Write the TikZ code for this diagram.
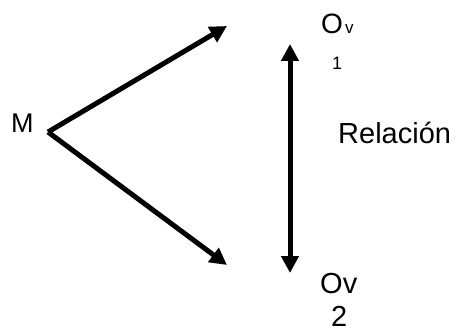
\documentclass[tikz,border=0pt]{standalone}
\usepackage{fontspec}
\setmainfont{Liberation Sans}
\usetikzlibrary{arrows.meta}
\begin{document}
\begin{tikzpicture}[x=1pt,y=-1pt,
  lbl/.style={inner sep=0pt,anchor=base west,font=\fontsize{29}{32}\selectfont},
  sml/.style={inner sep=0pt,anchor=base west,font=\fontsize{17}{20}\selectfont},
  arr/.style={line width=5pt,-{Triangle[length=17pt,width=17pt]}},
  darr/.style={line width=5pt,{Triangle[length=17pt,width=17pt]}-{Triangle[length=17pt,width=17pt]}}]
\useasboundingbox (0,0) rectangle (463,326);
\node[lbl,font=\fontsize{27}{30}\selectfont] (M) at (11,132) {M};
\coordinate (v) at (48,132);
\coordinate (t1) at (227,26);
\coordinate (t2) at (227,265);
\draw[arr] (v) -- (t1);
\draw[arr] (v) -- (t2);
\coordinate (a) at (290,44);
\coordinate (b) at (290,273);
\draw[darr] (a) -- (b);
\node[lbl,font=\fontsize{28}{30}\selectfont] (O1) at (321,34) {O};
\node[sml] (v1) at (345,34) {v};
\node[sml,font=\fontsize{18}{20}\selectfont] (n1) at (332,70) {1};
\node[lbl] (R) at (338,143) {Relación};
\node[lbl] (O2) at (320,293) {Ov};
\node[lbl] (n2) at (331,326) {2};
\end{tikzpicture}
\end{document}
